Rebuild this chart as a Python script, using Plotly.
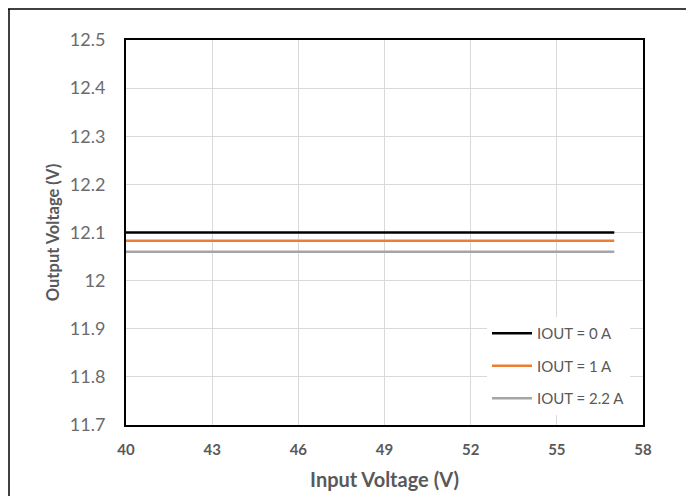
import plotly.graph_objects as go

# ---- data ----
input_voltage = [40, 57]
iout_0a = [12.100, 12.100]
iout_1a = [12.083, 12.083]
iout_2p2a = [12.060, 12.060]
series_names = ["IOUT = 0 A", "IOUT = 1 A", "IOUT = 2.2 A"]
series_colors = ["#000000", "#ED7D31", "#A5A5A5"]

x_tick_vals = [40, 43, 46, 49, 52, 55, 58]
y_tick_vals = [11.7, 11.8, 11.9, 12.0, 12.1, 12.2, 12.3, 12.4, 12.5]
y_tick_labels = ["11.7", "11.8", "11.9", "12", "12.1", "12.2", "12.3", "12.4", "12.5"]

# the page places the figure 8px in from the top-left corner
OFF = 8
W, H = 694 - OFF, 496 - OFF
L, R, T, B = 126 - OFF, 51, 40 - OFF, 71
pw, ph = W - L - R, H - T - B

fig = go.Figure()
for i, (name, ys) in enumerate(zip(series_names, [iout_0a, iout_1a, iout_2p2a])):
    fig.add_trace(go.Scatter(
        x=input_voltage, y=ys, mode="lines", name=name,
        line=dict(color=series_colors[i], width=2.5),
        legendgroup=f"g{i}",
    ))

font_fam = "Lato, Open Sans, sans-serif"
fig.update_layout(
    width=W, height=H,
    margin=dict(l=L, r=R, t=T, b=B, autoexpand=False),
    paper_bgcolor="white", plot_bgcolor="white",
    font=dict(family=font_fam, color="#595959"),
    showlegend=True,
    legend=dict(
        x=(487 - 126) / pw, y=(425 - 415) / ph, xanchor="left", yanchor="bottom",
        bgcolor="white", borderwidth=0,
        font=dict(size=15, color="#595959", family=font_fam),
        traceorder="grouped", tracegroupgap=10,
        itemwidth=40,
    ),
    xaxis=dict(
        range=[40, 58], tickvals=x_tick_vals, automargin=False,
        showgrid=True, gridcolor="#D9D9D9", gridwidth=1,
        zeroline=False,
        showline=True, linecolor="black", linewidth=2, mirror=True,
        ticks="", ticklabelstandoff=10,
        tickfont=dict(size=15, color="#595959", family=font_fam, weight="bold"),
        title=dict(text="<b>Input Voltage (V)</b>", font=dict(size=20, color="#595959"), standoff=16),
    ),
    yaxis=dict(
        range=[11.7, 12.5], tickvals=y_tick_vals, ticktext=y_tick_labels, automargin=False,
        showgrid=True, gridcolor="#D9D9D9", gridwidth=1,
        zeroline=False,
        showline=True, linecolor="black", linewidth=2, mirror=True,
        ticks="", ticklabelstandoff=15,
        tickfont=dict(size=18, color="#6b6b6b", family=font_fam),
        title=dict(text="<b>Output Voltage (V)</b>", font=dict(size=16.5, color="#595959"), standoff=6),
    ),
)

# outer frame lines (top and left edges of the image)
top_y = (H - B - 1) / ph
fig.add_shape(type="line", xref="paper", yref="paper",
              x0=-L / pw, x1=(W - L) / pw, y0=top_y, y1=top_y,
              line=dict(color="black", width=1.5))
fig.add_shape(type="line", xref="paper", yref="paper",
              x0=(1 - L) / pw, x1=(1 - L) / pw, y0=top_y, y1=-B / ph,
              line=dict(color="black", width=1.5))

fig.write_html("out.html")
